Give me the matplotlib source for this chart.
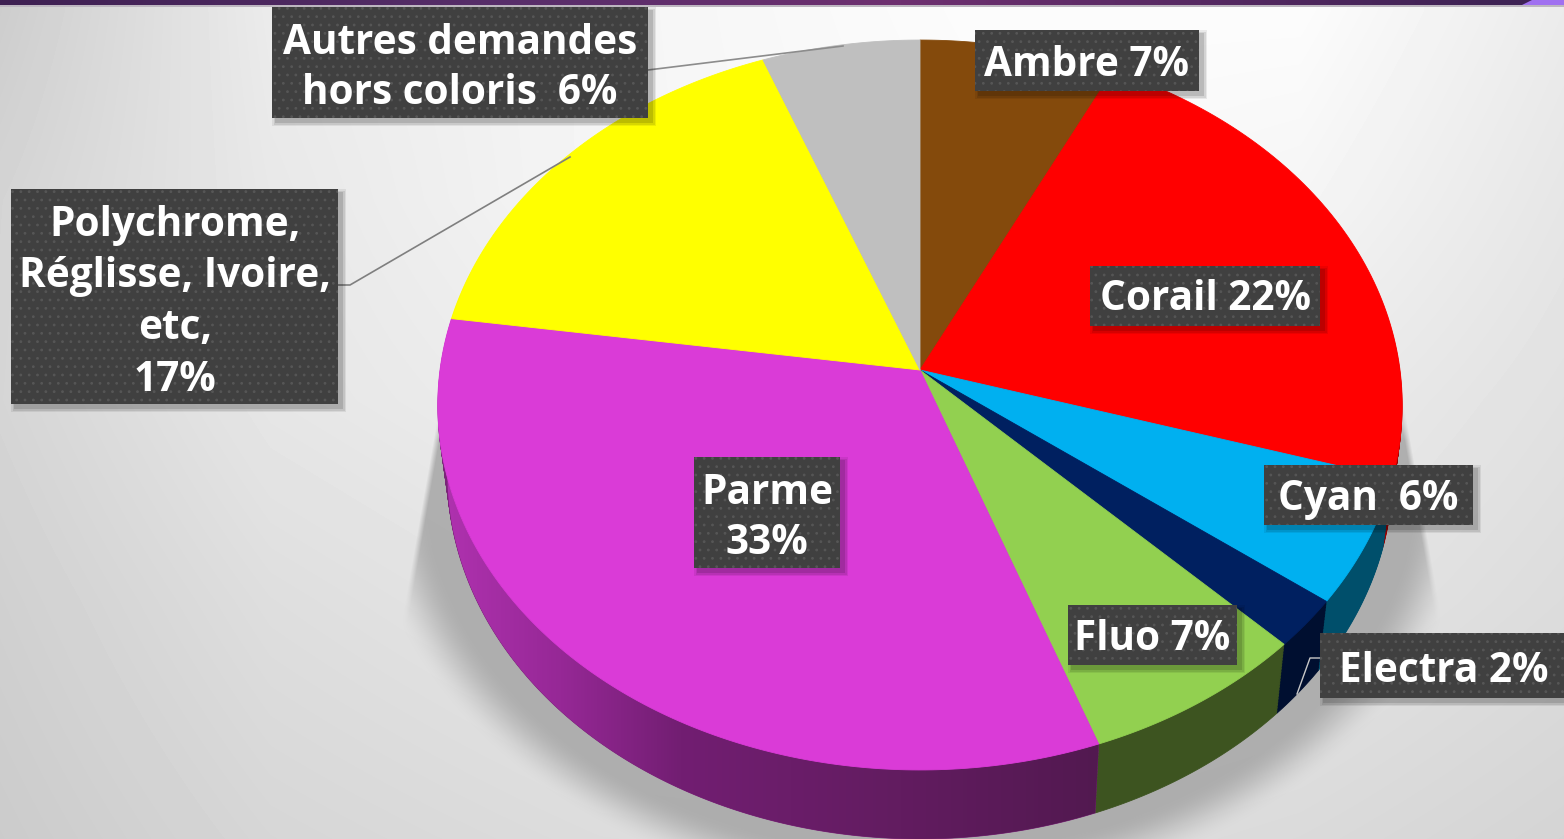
import numpy as np
import matplotlib
matplotlib.use("Agg")
import matplotlib.pyplot as plt
from matplotlib.path import Path
from matplotlib.patches import Rectangle, Polygon
from matplotlib.transforms import Transform

categories = ["Ambre", "Corail", "Cyan", "Electra", "Fluo", "Parme",
              "Polychrome, Réglisse, Ivoire, etc,", "Autres demandes hors coloris"]
values = [7.2, 22.5, 5.6, 2.2, 7.0, 32.8, 16.9, 5.8]
top_colors = ["#844A0C", "#FF0000", "#00B0F0", "#002060", "#92D050", "#DA3BD7", "#FFFF00", "#BFBFBF"]
side_colors = ["#4F2C07", "#990000", "#004F6B", "#000F30", "#3D5420", "#7A2478", "#999900", "#737373"]
label_texts = ["Ambre 7%", "Corail 22%", "Cyan  6%", "Electra 2%", "Fluo 7%", "Parme\n33%",
               "Polychrome,\nRéglisse, Ivoire,\netc,\n17%", "Autres demandes\nhors coloris  6%"]

W, H = 1564, 839
APEX_X, APEX_Y = 920.0, 370.0
S, K, TX = 361.6, 0.0959, 480.0
DEPTH = 69
BOTTOM_SHRINK = 0.02


class PieProjection(Transform):
    """Tilted-disc perspective: unit pie -> pixel-like data coordinates."""
    input_dims = output_dims = 2
    has_inverse = False

    def __init__(self, dy=0.0):
        super().__init__()
        self.dy = dy
        self.sx = 1 - BOTTOM_SHRINK * dy / DEPTH

    def transform_non_affine(self, xy):
        xy = np.asarray(xy, float)
        d = 1 + K * xy[:, 1]
        return np.column_stack([APEX_X + self.sx * TX * xy[:, 0] / d,
                                APEX_Y + self.dy - S * xy[:, 1] / d])

    def transform_path_non_affine(self, path):
        pts = []
        for seg, code in path.iter_bezier():
            n = 1 if seg.degree == 1 else 40
            pts.append(seg(np.linspace(0, 1, n + 1)))
        pts = np.vstack(pts)
        return Path(self.transform_non_affine(pts))


plt.rcParams["font.family"] = ["Open Sans", "DejaVu Sans"]
plt.rcParams["hatch.linewidth"] = 0.8
fig = plt.figure(figsize=(W / 100, H / 100), dpi=100)
ax = fig.add_axes([0, 0, 1, 1])

# background
yy, xx = np.mgrid[0:H, 0:W]
grid_x = [0, 270, 600, 1000, 1300, 1564]
grid_y = [10, 200, 400, 600, 839]
grid_v = np.array([[205, 235, 245, 252, 252, 235],
                   [212, 232, 245, 250, 245, 230],
                   [213, 230, 238, 240, 235, 225],
                   [208, 222, 230, 232, 228, 220],
                   [203, 214, 220, 222, 218, 212]], float)
rows = np.stack([np.interp(np.arange(W), grid_x, r) for r in grid_v])
bg = np.stack([np.interp(np.arange(H), grid_y, rows[:, i]) for i in range(W)], axis=1)
ax.imshow(bg, cmap="gray", vmin=0, vmax=255, extent=(0, W, H, 0), aspect="auto", zorder=0,
          interpolation="bilinear")

# soft cast shadow
ex = (xx - 920) / 478.0
ey = (yy - 474) / 365.0
edge = (np.hypot(ex, ey) - 1) * 420
fade = 1 - np.clip((edge - 15) / 55, 0, 1)
fade = fade * fade * (3 - 2 * fade)
lft = 440 - (yy - 400) * 35 / 200
rgt = 1403 + (yy - 400) * 35 / 200
side_mask = np.clip((xx - lft) / 6, 0, 1) * np.clip((rgt - xx) / 6, 0, 1) * (yy > 400)
side_fade = np.clip((yy - 400) / 40, 0, 1)
shadow = np.zeros((H, W, 4))
shadow[..., :3] = 165 / 255
shadow[..., 3] = 0.85 * fade * side_mask * side_fade
ax.imshow(shadow, extent=(0, W, H, 0), aspect="auto", zorder=1)

# extruded side, drawn back to front
for dy in np.arange(DEPTH, 0, -1.5):
    wedges, _ = ax.pie(values, colors=side_colors, startangle=90, counterclock=False, radius=1)
    for w in wedges:
        w.set_transform(PieProjection(dy) + ax.transData)
        w.set_edgecolor(w.get_facecolor())
        w.set_linewidth(0.6)
        w.set_zorder(2)

# gradient on the visible Parme wall
cum = np.cumsum(values) / np.sum(values) * 2 * np.pi
th = np.linspace(cum[4], cum[5], 300)
arc = np.column_stack([np.sin(th), np.cos(th)])
wall = np.vstack([PieProjection(0).transform_non_affine(arc),
                  PieProjection(DEPTH).transform_non_affine(arc)[::-1]])
wall_patch = Polygon(wall, closed=True, transform=ax.transData, fc="none", ec="none")
ax.add_patch(wall_patch)
gx = np.arange(W)
stops_x = [440, 560, 680, 900, 1100]
grad = np.stack([np.interp(gx, stops_x, [176, 150, 114, 98, 82]),
                 np.interp(gx, stops_x, [50, 40, 30, 28, 25]),
                 np.interp(gx, stops_x, [176, 150, 114, 96, 80])], axis=-1)[None, :, :] / 255
im = ax.imshow(grad, extent=(0, W, H, 0), aspect="auto", zorder=2.5)
im.set_clip_path(wall_patch)

# top face
wedges, _ = ax.pie(values, colors=top_colors, startangle=90, counterclock=False, radius=1)
for w in wedges:
    w.set_transform(PieProjection(0) + ax.transData)
    w.set_edgecolor(w.get_facecolor())
    w.set_linewidth(0.6)
    w.set_zorder(3)

ax.set_aspect("auto")
ax.set_xlim(0, W)
ax.set_ylim(H, 0)
ax.axis("off")

# top band
band = np.stack([np.interp(gx, [0, 500, 900, 1500], [62, 88, 110, 62]),
                 np.interp(gx, [0, 500, 900, 1500], [32, 46, 48, 34]),
                 np.interp(gx, [0, 500, 900, 1500], [82, 106, 112, 84])], axis=-1)[None, :, :] / 255
ax.imshow(band, extent=(0, W, 5, 0), aspect="auto", zorder=4)
ax.add_patch(Rectangle((0, 5), W, 1.5, fc="#BDB6C0", ec="none", zorder=4))
ax.add_patch(Polygon([(1522, 5), (1532, 0), (W, 0), (W, 5)], fc="#A070F0", ec="none", zorder=4.1))
ax.set_xlim(0, W)
ax.set_ylim(H, 0)

# leader lines
ax.plot([648, 843], [70, 46], color="#8C8C8C", lw=1.2, zorder=5)
ax.plot([338, 350, 570], [285, 285, 157], color="#7F7F7F", lw=1.2, zorder=5)
ax.plot([1320, 1310, 1297], [658, 658, 694], color="#C8C8C8", lw=1.0, zorder=5)

# label boxes: x0, x1, y0, y1, text centre x, first-line centre y, line pitch
boxes = [(975, 1199, 30, 91, 1087, 66, 0),
         (1090, 1320, 266, 326, 1205, 300, 0),
         (1264, 1473, 465, 525, 1368, 500, 0),
         (1320, 1564, 633, 698, 1444, 671, 0),
         (1068, 1237, 605, 665, 1152, 640, 0),
         (694, 840, 457, 568, 767, 493, 51),
         (11, 338, 189, 404, 175, 225, 51.7),
         (272, 648, 7, 118, 460, 43, 51)]
for (x0, x1, y0, y1, cx, cy, pitch), lab in zip(boxes, label_texts):
    for grow, a in [(4, 0.07), (2.5, 0.09), (1, 0.12)]:
        ax.add_patch(Rectangle((x0 + 4 - grow, y0 + 4 - grow), x1 - x0 + 2 * grow, y1 - y0 + 2 * grow,
                               fc="#000000", alpha=a, ec="none", zorder=6))
    ax.add_patch(Rectangle((x0, y0), x1 - x0, y1 - y0, fc="#404040", ec="#565656", lw=0,
                           hatch="..", zorder=7))
    for i, line in enumerate(lab.split("\n")):
        ax.text(cx, cy + i * pitch, line, color="white", fontsize=29.2, fontweight="bold",
                ha="center", va="center", zorder=8)

fig.savefig("out.png", dpi=100)
